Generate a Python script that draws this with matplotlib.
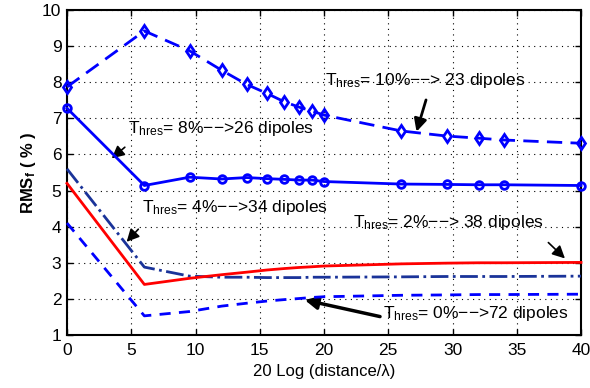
import matplotlib
matplotlib.use("Agg")
import matplotlib.pyplot as plt

plt.rcParams['font.family'] = ['Liberation Sans', 'DejaVu Sans']
plt.rcParams['mathtext.fontset'] = 'custom'
plt.rcParams['mathtext.rm'] = 'Liberation Sans'
plt.rcParams['mathtext.it'] = 'Liberation Sans'
plt.rcParams['mathtext.bf'] = 'Liberation Sans:bold'

# x = 20 log10(distance/lambda)
x = [0, 6.02, 9.54, 12.04, 13.98, 15.56, 16.90, 18.06, 19.08, 20.0,
     26.02, 29.54, 32.04, 33.98, 40.0]

thr10 = [7.87, 9.42, 8.87, 8.33, 7.94, 7.69, 7.46, 7.31, 7.20, 7.09,
         6.65, 6.51, 6.45, 6.40, 6.31]
thr8 = [7.28, 5.14, 5.37, 5.32, 5.36, 5.33, 5.31, 5.29, 5.29, 5.25,
        5.18, 5.17, 5.16, 5.16, 5.14]
thr4 = [5.60, 2.88, 2.63, 2.60, 2.60, 2.59, 2.59, 2.59, 2.60, 2.60,
        2.61, 2.62, 2.62, 2.62, 2.63]
thr2 = [5.20, 2.40, 2.57, 2.67, 2.74, 2.80, 2.84, 2.87, 2.89, 2.91,
        2.97, 2.99, 3.00, 3.00, 3.01]
thr0 = [4.10, 1.53, 1.65, 1.80, 1.88, 1.94, 1.98, 2.01, 2.04, 2.06,
        2.10, 2.11, 2.12, 2.12, 2.13]

labels = [r'T$_{\rm hres}$= 10%' + '\u2212\u2212> 23 dipoles',
          r'T$_{\rm hres}$= 8%' + '\u2212\u2212>26 dipoles',
          r'T$_{\rm hres}$= 4%' + '\u2212\u2212>34 dipoles',
          r'T$_{\rm hres}$= 2%' + '\u2212\u2212> 38 dipoles',
          r'T$_{\rm hres}$= 0%' + '\u2212\u2212>72 dipoles']

xticks = [0, 5, 10, 15, 20, 25, 30, 35, 40]
yticks = [1, 2, 3, 4, 5, 6, 7, 8, 9, 10]

fig = plt.figure(figsize=(5.9, 3.88), dpi=100)
ax = fig.add_axes([67/590, 53/388, 514/590, 325/388])

blue = (0, 0, 1)
navy = (0.1, 0.2, 0.6)

ax.plot(x, thr10, color=blue, lw=2, dashes=(5.5, 3), marker='d', ms=6,
        mfc='none', mew=2, clip_on=False, zorder=5)
ax.plot(x, thr8, color=blue, lw=2, marker='o', ms=5.5, mfc='none', mew=2,
        clip_on=False, zorder=5)
ax.plot(x, thr4, color=navy, lw=2, linestyle='-.', clip_on=False, zorder=4)
ax.plot(x, thr2, color='red', lw=2, clip_on=False, zorder=4)
ax.plot(x, thr0, color=blue, lw=2, dashes=(4, 3), clip_on=False, zorder=4)

ax.set_xlim(0, 40)
ax.set_ylim(1, 10)
ax.set_xticks(xticks)
ax.set_yticks(yticks)
ax.tick_params(direction='in', length=4, labelsize=12.5, top=True, right=True,
               width=1)
ax.tick_params(axis='x', pad=6)
ax.tick_params(axis='y', pad=4)
ax.grid(True, linestyle=(0, (1, 4)), color='k', lw=0.8)
for s in ax.spines.values():
    s.set_linewidth(1.5)

ax.set_xlabel('20 Log (distance/\u03bb)', fontsize=12, labelpad=4)
ax.set_ylabel(r'RMS$_{\bf f}$ ( % )', fontsize=12, fontweight='bold', labelpad=3)

fs = 12.5
ax.text(20.08, 7.93, labels[0], fontsize=fs, va='baseline', ha='left')
ax.text(4.77, 6.59, labels[1], fontsize=fs, va='baseline', ha='left')
ax.text(5.81, 4.42, labels[2], fontsize=fs, va='baseline', ha='left')
ax.text(22.28, 4.00, labels[3], fontsize=fs, va='baseline', ha='left')
ax.text(24.6, 1.46, labels[4], fontsize=fs, va='baseline', ha='left')

ap = dict(arrowstyle='-|>,head_length=0.5,head_width=0.25', color='k', lw=2,
          mutation_scale=15, shrinkA=0, shrinkB=0)
ax.annotate('', xy=(27.2, 6.63), xytext=(27.94, 7.51), arrowprops=ap)
ax.annotate('', xy=(3.48, 5.89), xytext=(4.5, 6.2), arrowprops=dict(ap, lw=1.2))
ax.annotate('', xy=(4.64, 3.58), xytext=(5.55, 3.93), arrowprops=dict(ap, lw=1.2))
ax.annotate('', xy=(38.75, 3.12), xytext=(37.46, 3.56), arrowprops=dict(ap, lw=1.2))
ax.annotate('', xy=(18.5, 1.97), xytext=(24.36, 1.51), arrowprops=dict(ap, lw=2.5))

fig.savefig('out.png', dpi=100)
